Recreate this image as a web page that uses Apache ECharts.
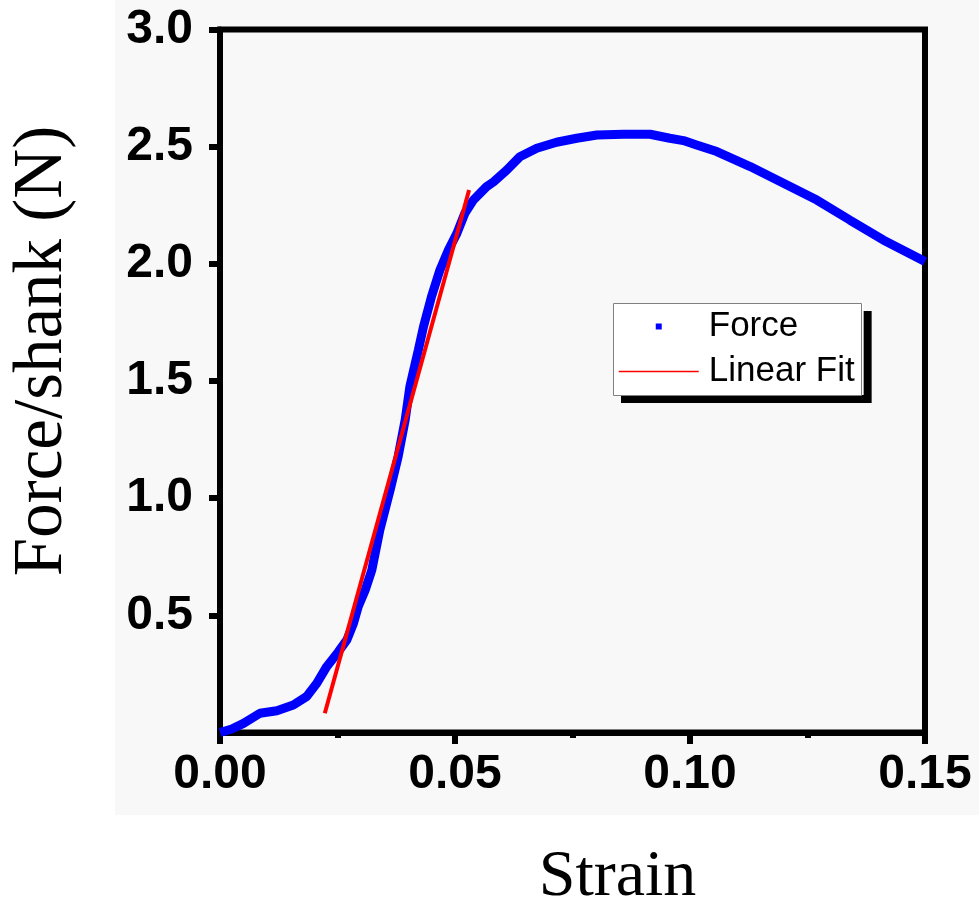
<!DOCTYPE html>
<html>
<head>
<meta charset="utf-8">
<script src="https://cdn.jsdelivr.net/npm/echarts@6/dist/echarts.min.js"></script>
<style>html,body{margin:0;padding:0;background:#fff;}#c{width:979px;height:903px;}</style>
</head>
<body>
<div id="c"></div>
<script>
const strain = [0.0000, 0.0025, 0.0050, 0.0085, 0.0121, 0.0156, 0.0184, 0.0206, 0.0227, 0.0252, 0.0270, 0.0284, 0.0294, 0.0309, 0.0323, 0.0340, 0.0362, 0.0379, 0.0394, 0.0404, 0.0422, 0.0433, 0.0450, 0.0468, 0.0486, 0.0504, 0.0521, 0.0539, 0.0567, 0.0582, 0.0610, 0.0638, 0.0674, 0.0716, 0.0759, 0.0802, 0.0858, 0.0915, 0.0957, 0.0986, 0.1014, 0.1057, 0.1128, 0.1199, 0.1270, 0.1340, 0.1411, 0.1500];
const force = [0.000, 0.015, 0.039, 0.082, 0.093, 0.117, 0.153, 0.210, 0.281, 0.345, 0.395, 0.466, 0.537, 0.608, 0.693, 0.864, 1.035, 1.177, 1.334, 1.476, 1.632, 1.732, 1.860, 1.974, 2.059, 2.130, 2.216, 2.272, 2.329, 2.350, 2.400, 2.457, 2.493, 2.519, 2.536, 2.550, 2.553, 2.553, 2.536, 2.526, 2.507, 2.479, 2.415, 2.344, 2.272, 2.187, 2.102, 2.010];
const fitStrain = [0.0223, 0.0530];
const fitForce = [0.082, 2.315];
const yTicks = [0.5, 1.0, 1.5, 2.0, 2.5, 3.0];
const seriesNames = ['Force', 'Linear Fit'];
const xName = 'Strain';
const yName = 'Force/shank (N)';

const chart = echarts.init(document.getElementById('c'));
const tickFont = {fontFamily: 'Liberation Sans, Arial', fontWeight: 'bold', fontSize: 48, color: '#000'};
chart.setOption({
  animation: false,
  backgroundColor: '#fff',
  graphic: [
    {type: 'rect', z: -10, shape: {x: 115, y: 0, width: 864, height: 815}, style: {fill: '#f8f8f8'}},
    {type: 'rect', z: 100, shape: {x: 613.5, y: 303.5, width: 248, height: 92}, style: {fill: 'none', stroke: '#808080', lineWidth: 1}}
  ],
  grid: {left: 220, top: 29.5, width: 705, height: 703, outerBoundsMode: 'none', containLabel: false,
         show: true, borderColor: '#000', borderWidth: 6, backgroundColor: 'transparent'},
  legend: {
    orient: 'vertical', left: 613, top: 303, padding: [6, 9, 6, 5], itemGap: 10, itemWidth: 80, itemHeight: 14,
    backgroundColor: '#fff', borderWidth: 0,
    shadowColor: '#000', shadowBlur: 0, shadowOffsetX: 8, shadowOffsetY: 8,
    textStyle: {fontFamily: 'Liberation Sans, Arial', fontSize: 35, color: '#000', padding: [0, 0, 0, 5], lineHeight: 34},
    data: [
      {name: seriesNames[0], icon: 'path://M0,0M80,14M37,4h6v6h-6z', itemStyle: {color: '#0000ff', borderWidth: 0}},
      {name: seriesNames[1], itemStyle: {opacity: 0, borderWidth: 0}, lineStyle: {width: 1.5, color: '#ff0000', opacity: 1}}
    ]
  },
  xAxis: {
    type: 'value', min: 0, max: 0.15, interval: 0.05,
    name: xName, nameLocation: 'middle', nameGap: 112,
    nameTextStyle: {fontFamily: 'Liberation Serif, Times New Roman', fontSize: 66, color: '#000', padding: [0, 0, 0, 90]},
    axisLine: {show: true, lineStyle: {color: '#000', width: 6}},
    axisTick: {show: true, length: 11.5, lineStyle: {color: '#000', width: 6}},
    minorTick: {show: true, splitNumber: 2, length: 5.5, lineStyle: {color: '#000', width: 6}},
    splitLine: {show: false},
    axisLabel: Object.assign({margin: 18, formatter: v => v.toFixed(2)}, tickFont)
  },
  yAxis: {
    type: 'value', min: 0, max: 3, interval: 0.5,
    name: yName, nameLocation: 'middle', nameGap: 143, nameRotate: 90,
    nameTextStyle: {fontFamily: 'Liberation Serif, Times New Roman', fontSize: 69, color: '#000', padding: [0, 0, 0, 60]},
    axisLine: {show: true, lineStyle: {color: '#000', width: 6}},
    axisTick: {show: true, length: 11, customValues: yTicks, lineStyle: {color: '#000', width: 6}},
    splitLine: {show: false},
    axisLabel: Object.assign({margin: 27, customValues: yTicks, formatter: v => v.toFixed(1)}, tickFont)
  },
  series: [
    {name: seriesNames[0], type: 'line', symbol: 'none', color: '#0000ff',
     itemStyle: {color: '#0000ff'},
     lineStyle: {width: 9, color: '#0000ff'},
     data: strain.map((s, i) => [s, force[i]])},
    {name: seriesNames[1], type: 'line', symbol: 'none', showSymbol: false, color: '#ff0000',
     itemStyle: {color: '#ff0000'},
     lineStyle: {width: 4, color: '#ff0000'},
     data: fitStrain.map((s, i) => [s, fitForce[i]])}
  ]
});
</script>
</body>
</html>
